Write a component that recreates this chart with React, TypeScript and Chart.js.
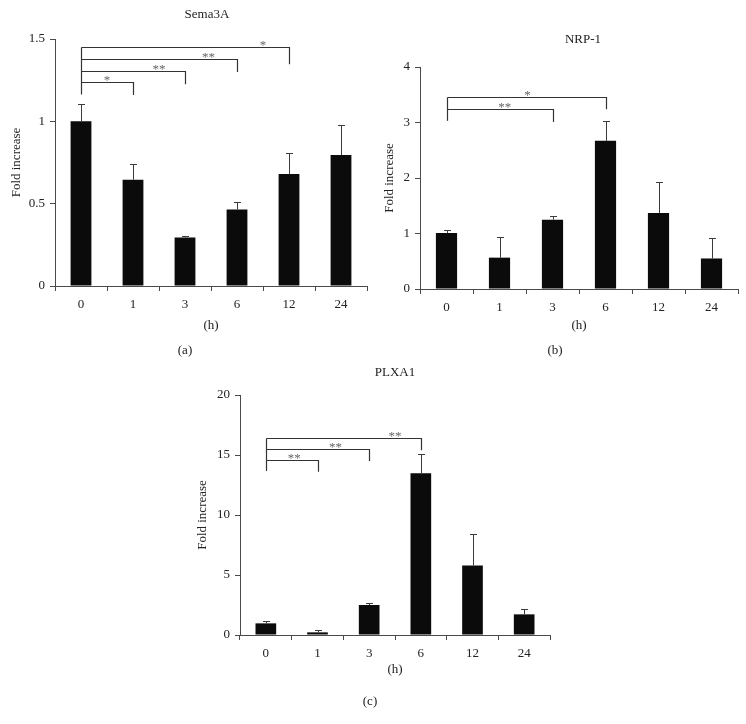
import React, { useEffect, useRef } from 'react';
import { Chart, registerables } from 'chart.js';

Chart.register(...registerables);

const FONT = "'Liberation Serif', 'Times New Roman', serif";

// Shared categories (hours)
const hours = ['0', '1', '3', '6', '12', '24'];

// (a) Sema3A
const semaValues = [1.0, 0.645, 0.295, 0.465, 0.68, 0.795];
const semaErrors = [0.105, 0.097, 0.009, 0.047, 0.13, 0.182];
const semaTicks = [0, 0.5, 1, 1.5];
const semaBracketTo = [1, 2, 3, 4];
const semaBracketLevel = [1.237, 1.303, 1.379, 1.454];
const semaBracketEnd = [1.16, 1.225, 1.3, 1.346];
const semaBracketStart = 1.163;
const semaStars = ['*', '**', '**', '*'];
const semaStarAt = [0.5, 1.5, 2.45, 3.5];

// (b) NRP-1
const nrpValues = [1.01, 0.565, 1.25, 2.67, 1.37, 0.55];
const nrpErrors = [0.05, 0.365, 0.065, 0.365, 0.565, 0.375];
const nrpTicks = [0, 1, 2, 3, 4];
const nrpBracketTo = [2, 3];
const nrpBracketLevel = [3.24, 3.46];
const nrpBracketEnd = [3.01, 3.24];
const nrpBracketStart = 3.03;
const nrpStars = ['**', '*'];
const nrpStarAt = [1.1, 1.53];

// (c) PLXA1
const plxValues = [0.97, 0.22, 2.5, 13.48, 5.8, 1.72];
const plxErrors = [0.22, 0.2, 0.19, 1.6, 2.6, 0.47];
const plxTicks = [0, 5, 10, 15, 20];
const plxBracketTo = [1, 2, 3];
const plxBracketLevel = [14.58, 15.47, 16.39];
const plxBracketEnd = [13.6, 14.5, 15.4];
const plxBracketStart = 13.67;
const plxStars = ['**', '**', '**'];
const plxStarAt = [0.55, 1.35, 2.5];

type Panel = {
  title: string;
  label: string;
  values: number[];
  errors: number[];
  ticks: number[];
  bracketTo: number[];
  bracketLevel: number[];
  bracketEnd: number[];
  bracketStart: number;
  stars: string[];
  starAt: number[];
  box: { left: number; top: number; width: number; height: number };
  plot: { x0: number; x1: number; top: number; bottom: number };
  titlePos: [number, number];
  labelPos: [number, number];
  yTitleGap: number;
  xTitleGap: number;
};

const panels: Panel[] = [
  {
    title: 'Sema3A', label: '(a)', values: semaValues, errors: semaErrors, ticks: semaTicks,
    bracketTo: semaBracketTo, bracketLevel: semaBracketLevel, bracketEnd: semaBracketEnd,
    bracketStart: semaBracketStart, stars: semaStars, starAt: semaStarAt,
    box: { left: 0, top: 0, width: 373, height: 365 },
    plot: { x0: 55, x1: 367, top: 39, bottom: 286 },
    titlePos: [207, 15], labelPos: [185, 351], yTitleGap: 38, xTitleGap: 40,
  },
  {
    title: 'NRP-1', label: '(b)', values: nrpValues, errors: nrpErrors, ticks: nrpTicks,
    bracketTo: nrpBracketTo, bracketLevel: nrpBracketLevel, bracketEnd: nrpBracketEnd,
    bracketStart: nrpBracketStart, stars: nrpStars, starAt: nrpStarAt,
    box: { left: 373, top: 0, width: 373, height: 365 },
    plot: { x0: 420, x1: 738, top: 67, bottom: 289 },
    titlePos: [583, 40], labelPos: [555, 351], yTitleGap: 30, xTitleGap: 37,
  },
  {
    title: 'PLXA1', label: '(c)', values: plxValues, errors: plxErrors, ticks: plxTicks,
    bracketTo: plxBracketTo, bracketLevel: plxBracketLevel, bracketEnd: plxBracketEnd,
    bracketStart: plxBracketStart, stars: plxStars, starAt: plxStarAt,
    box: { left: 0, top: 365, width: 746, height: 359 },
    plot: { x0: 240, x1: 550, top: 395, bottom: 635 },
    titlePos: [395, 373], labelPos: [370, 702], yTitleGap: 37, xTitleGap: 35,
  },
];

function annotations(p: Panel) {
  return {
    id: 'annot',
    afterDatasetsDraw(chart: any) {
      const ctx = chart.ctx;
      const ys = chart.scales.y;
      const xs = chart.scales.x;
      const meta = chart.getDatasetMeta(0);
      ctx.save();
      // error bars (upper only)
      ctx.strokeStyle = '#3c3c3c';
      ctx.lineWidth = 1;
      p.values.forEach((v, i) => {
        const bx = Math.round(meta.data[i].x) + 0.5;
        const y0 = ys.getPixelForValue(v);
        const y1 = Math.round(ys.getPixelForValue(v + p.errors[i])) + 0.5;
        ctx.beginPath();
        ctx.moveTo(bx, y0);
        ctx.lineTo(bx, y1);
        ctx.moveTo(bx - 3.5, y1);
        ctx.lineTo(bx + 3.5, y1);
        ctx.stroke();
      });
      // significance brackets
      const x0 = Math.round(meta.data[0].x) + 0.5;
      const topLevel = Math.max(...p.bracketLevel);
      ctx.strokeStyle = '#333';
      ctx.lineWidth = 1.2;
      ctx.beginPath();
      ctx.moveTo(x0, ys.getPixelForValue(p.bracketStart));
      ctx.lineTo(x0, Math.round(ys.getPixelForValue(topLevel)) + 0.5);
      ctx.stroke();
      p.bracketTo.forEach((t, k) => {
        const ly = Math.round(ys.getPixelForValue(p.bracketLevel[k])) + 0.5;
        const xe = Math.round(meta.data[t].x) + 0.5;
        ctx.strokeStyle = '#333';
        ctx.beginPath();
        ctx.moveTo(x0, ly);
        ctx.lineTo(xe, ly);
        ctx.lineTo(xe, ys.getPixelForValue(p.bracketEnd[k]));
        ctx.stroke();
        ctx.fillStyle = '#666';
        ctx.font = `13px ${FONT}`;
        ctx.textAlign = 'center';
        ctx.textBaseline = 'alphabetic';
        ctx.fillText(p.stars[k], xs.getPixelForValue(p.starAt[k]), ly + 1.5);
      });
      ctx.restore();
    },
    afterDraw(chart: any) {
      const ctx = chart.ctx;
      const a = chart.chartArea;
      ctx.save();
      ctx.fillStyle = '#222';
      ctx.font = `13px ${FONT}`;
      ctx.textAlign = 'center';
      ctx.textBaseline = 'middle';
      ctx.fillText(p.title, p.titlePos[0] - p.box.left, p.titlePos[1] - p.box.top);
      ctx.fillText('(h)', (a.left + a.right) / 2, a.bottom + p.xTitleGap);
      ctx.fillText(p.label, p.labelPos[0] - p.box.left, p.labelPos[1] - p.box.top);
      ctx.translate(a.left - p.yTitleGap, (a.top + a.bottom) / 2);
      ctx.rotate(-Math.PI / 2);
      ctx.fillText('Fold increase', 0, 0);
      ctx.restore();
    },
  };
}

function BarPanel({ p }: { p: Panel }) {
  const ref = useRef<HTMLCanvasElement>(null);
  useEffect(() => {
    const canvas = ref.current!;
    const yWidth = p.plot.x0 - p.box.left;
    const xHeight = p.box.top + p.box.height - p.plot.bottom;
    const padLeft = p.box.left === 0 && p.box.width > 400 ? 180 : 0;
    const chart = new Chart(canvas, {
      type: 'bar',
      data: {
        labels: hours,
        datasets: [
          {
            data: p.values,
            backgroundColor: '#0b0b0b',
            borderWidth: 0,
            barPercentage: 0.4,
            categoryPercentage: 1,
          },
        ],
      },
      options: {
        animation: false,
        responsive: false,
        maintainAspectRatio: false,
        devicePixelRatio: 1,
        events: [],
        layout: {
          padding: {
            top: p.plot.top - p.box.top,
            left: padLeft,
            right: p.box.left + p.box.width - p.plot.x1,
            bottom: 0,
          },
        },
        plugins: { legend: { display: false }, tooltip: { enabled: false }, title: { display: false } },
        scales: {
          x: {
            offset: true,
            grid: { offset: true, drawOnChartArea: false, drawTicks: true, tickLength: 5, color: '#4a4a4a' },
            border: { display: true, color: '#4a4a4a', width: 1 },
            ticks: { color: '#222', font: { family: FONT, size: 13 }, padding: 6, maxRotation: 0 },
            afterFit: (s: any) => { s.height = xHeight; },
          },
          y: {
            min: p.ticks[0],
            max: p.ticks[p.ticks.length - 1],
            grid: { drawOnChartArea: false, drawTicks: true, tickLength: 5, color: '#4a4a4a' },
            border: { display: true, color: '#4a4a4a', width: 1 },
            ticks: {
              color: '#222',
              font: { family: FONT, size: 13 },
              padding: 5,
              callback: (v: any) => String(v),
            },
            afterBuildTicks: (s: any) => { s.ticks = p.ticks.map((v) => ({ value: v })); },
            afterFit: (s: any) => { s.width = yWidth - padLeft; },
          },
        },
      },
      plugins: [annotations(p)],
    });
    return () => chart.destroy();
  }, [p]);
  return (
    <canvas
      ref={ref}
      width={p.box.width}
      height={p.box.height}
      style={{ position: 'absolute', left: p.box.left, top: p.box.top, width: p.box.width, height: p.box.height }}
    />
  );
}

export default function App() {
  return (
    <div style={{ position: 'absolute', left: 0, top: 0, width: 746, height: 724, background: '#fff' }}>
      {panels.map((p) => (
        <BarPanel key={p.title} p={p} />
      ))}
    </div>
  );
}
